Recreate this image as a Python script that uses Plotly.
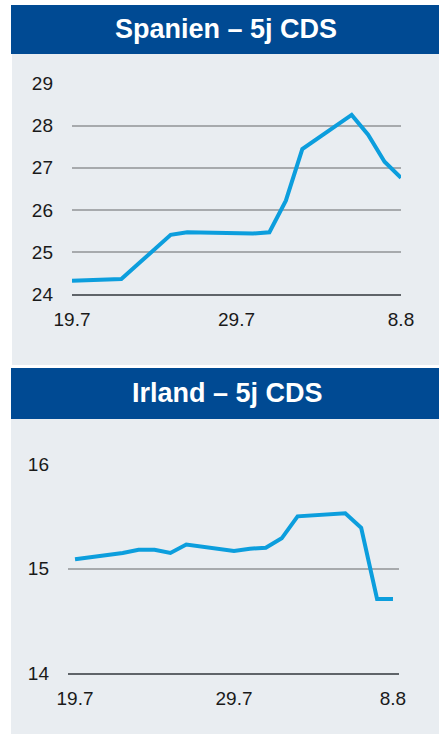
import plotly.graph_objects as go
import pandas as pd

# ---- data ----
dates = ["2019-07-19", "2019-07-22", "2019-07-23", "2019-07-24", "2019-07-25",
         "2019-07-26", "2019-07-29", "2019-07-30", "2019-07-31", "2019-08-01",
         "2019-08-02", "2019-08-05", "2019-08-06", "2019-08-07", "2019-08-08"]
spain_cds = [24.32, 24.36, 24.71, 25.06, 25.41, 25.47, 25.43, 25.44, 25.47,
             26.22, 27.44, 28.25, 27.78, 27.14, 26.76]
ireland_cds = [15.09, 15.15, 15.18, 15.18, 15.15, 15.23, 15.17, 15.19, 15.20,
               15.29, 15.50, 15.53, 15.39, 14.71, 14.71]
tick_dates = ["2019-07-19", "2019-07-29", "2019-08-08"]
tick_labels = ["19.7", "29.7", "8.8"]
titles = ["Spanien – 5j CDS", "Irland – 5j CDS"]

W, H = 439, 734
BLUE = "#004a93"
PANEL = "#e9edf1"
LINE = "#0c9edd"
GRID = "#a7aaad"
AXIS = "#5f6469"
FONT = "Liberation Sans, Arial, sans-serif"


def px(x):
    return x / W


def py(y):
    return 1 - y / H


fig = go.Figure()
fig.add_trace(go.Scatter(x=dates, y=spain_cds, mode="lines",
                         line=dict(color=LINE, width=4), xaxis="x", yaxis="y",
                         showlegend=False))
fig.add_trace(go.Scatter(x=dates, y=ireland_cds, mode="lines",
                         line=dict(color=LINE, width=4), xaxis="x2", yaxis="y2",
                         showlegend=False))

d0 = pd.Timestamp(dates[0])
d1 = pd.Timestamp(dates[-1])
bottom_range = [d0 - pd.Timedelta(hours=10.6), d1 + pd.Timedelta(hours=9.1)]

common_x = dict(type="date", tickvals=tick_dates, ticktext=tick_labels,
                showgrid=False, showline=True, linecolor=AXIS, linewidth=1.5,
                ticks="", ticklabelstandoff=7, fixedrange=True, automargin=False,
                tickfont=dict(family=FONT, size=19, color="#1a1a1a"))
common_y = dict(showgrid=True, gridcolor=GRID, gridwidth=1.5, zeroline=False,
                showline=False, ticks="", ticklabelstandoff=18, dtick=1,
                automargin=False, fixedrange=True,
                tickfont=dict(family=FONT, size=19, color="#1a1a1a"))

fig.update_layout(
    width=W, height=H, autosize=False,
    margin=dict(l=0, r=0, t=0, b=0, pad=0, autoexpand=False),
    paper_bgcolor="white",
    plot_bgcolor="rgba(0,0,0,0)",
    xaxis=dict(domain=[px(72), px(401)], range=[d0, d1], anchor="y", **common_x),
    yaxis=dict(domain=[py(294.3), py(83.3)], range=[24, 29], anchor="x", **common_y),
    xaxis2=dict(domain=[px(68), px(399)], range=bottom_range, anchor="y2", **common_x),
    yaxis2=dict(domain=[py(673.3), py(464)], range=[14, 16], anchor="x2", **common_y),
    shapes=[
        dict(type="rect", xref="paper", yref="paper", x0=px(12), x1=px(439),
             y0=py(365), y1=py(54), fillcolor=PANEL, line=dict(width=0), layer="below"),
        dict(type="rect", xref="paper", yref="paper", x0=px(11), x1=px(439),
             y0=py(54), y1=py(5), fillcolor=BLUE, line=dict(width=0), layer="below"),
        dict(type="rect", xref="paper", yref="paper", x0=px(11), x1=px(439),
             y0=py(734), y1=py(419), fillcolor=PANEL, line=dict(width=0), layer="below"),
        dict(type="rect", xref="paper", yref="paper", x0=px(11), x1=px(439),
             y0=py(419), y1=py(368), fillcolor=BLUE, line=dict(width=0), layer="below"),
    ],
    annotations=[
        dict(text="<b>" + titles[0] + "</b>", xref="paper", yref="paper",
             x=px(226), y=py(29), showarrow=False, xanchor="center", yanchor="middle",
             font=dict(family=FONT, size=27, color="white")),
        dict(text="<b>" + titles[1] + "</b>", xref="paper", yref="paper",
             x=px(227), y=py(393), showarrow=False, xanchor="center", yanchor="middle",
             font=dict(family=FONT, size=27, color="white")),
    ],
)

fig.write_html(
    "out.html",
    config={"responsive": False, "displayModeBar": False},
    post_script="document.body.style.margin='0';document.body.style.overflow='hidden';",
)
